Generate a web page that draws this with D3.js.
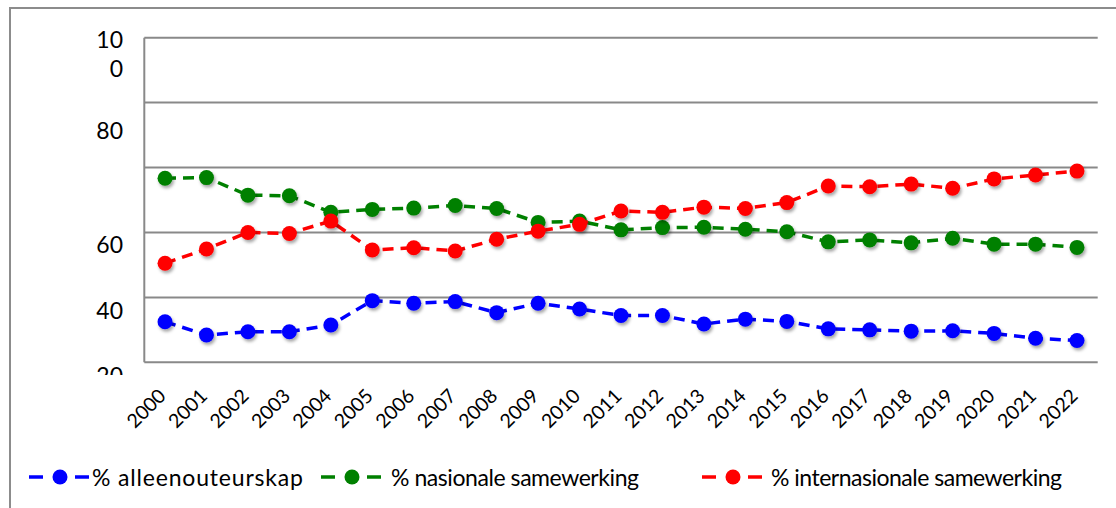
<!DOCTYPE html>
<html>
<head>
<meta charset="utf-8">
<script src="https://cdn.jsdelivr.net/npm/d3@7"></script>
<style>
  html, body { margin: 0; padding: 0; background: #fff; }
  svg { display: block; font-family: Lato, "Open Sans", sans-serif; }
</style>
</head>
<body>
<svg id="chart" width="1116" height="508"></svg>
<script>
// ---- data ----
const years = ["2000","2001","2002","2003","2004","2005","2006","2007","2008","2009","2010","2011",
               "2012","2013","2014","2015","2016","2017","2018","2019","2020","2021","2022"];
const solo = [12.5, 8.4, 9.4, 9.4, 11.5, 19.0, 18.2, 18.7, 15.3, 18.2, 16.4, 14.4,
              14.4, 11.8, 13.3, 12.6, 10.3, 10.0, 9.6, 9.7, 8.9, 7.4, 6.7];
const national = [56.7, 56.9, 51.5, 51.3, 46.2, 47.1, 47.5, 48.3, 47.4, 43.1, 43.5, 40.8,
                  41.5, 41.6, 41.0, 40.2, 37.1, 37.7, 36.8, 38.2, 36.4, 36.4, 35.4];
const international = [30.5, 34.9, 40.0, 39.7, 43.5, 34.6, 35.3, 34.3, 37.9, 40.4, 42.5, 46.6,
                       46.2, 47.8, 47.4, 49.2, 54.3, 54.1, 54.9, 53.6, 56.5, 57.7, 58.9];
const seriesNames = ["% alleenouteurskap", "% nasionale samewerking", "% internasionale samewerking"];
const gridValues = [0, 20, 40, 60, 80, 100];
const yTickValues = [100, 80, 60, 40, 20];

// ---- layout ----
const svg = d3.select("#chart");
const colors = ["#0000ff", "#008000", "#ff0000"];
const plot = { left: 144.3, right: 1097.7, top: 37.7, bottom: 362.3 };

const defs = svg.append("defs");
const f = defs.append("filter").attr("id", "shadow")
  .attr("x", "-60%").attr("y", "-60%").attr("width", "220%").attr("height", "220%");
f.append("feDropShadow").attr("dx", 1.5).attr("dy", 2.5).attr("stdDeviation", 1.6)
  .attr("flood-color", "#000").attr("flood-opacity", 0.35);
defs.append("clipPath").attr("id", "yclip")
  .append("rect").attr("x", 0).attr("y", 0).attr("width", 140).attr("height", 375);

// outer frame
svg.append("path")
  .attr("d", "M10,508 L10,8 L1116,8")
  .attr("fill", "none").attr("stroke", "#8c8c8c").attr("stroke-width", 2);

const x = d3.scaleBand().domain(years).range([plot.left, plot.right]);
const y = d3.scaleLinear().domain([0, 100]).range([plot.bottom, plot.top]);
const cx = d => x(d) + x.bandwidth() / 2;

// gridlines
svg.append("g").selectAll("line").data(gridValues).join("line")
  .attr("x1", plot.left).attr("x2", plot.right)
  .attr("y1", d => y(d)).attr("y2", d => y(d))
  .attr("stroke", "#898989").attr("stroke-width", 2);
// y axis line
svg.append("line")
  .attr("x1", plot.left).attr("x2", plot.left)
  .attr("y1", y(100)).attr("y2", y(0))
  .attr("stroke", "#898989").attr("stroke-width", 2);

// y tick labels (placement mimics the reference rendering)
const labelNudge = { 100: 1.5, 80: 27.7, 60: 76.2, 40: 77.4, 20: 78 };
const yl = svg.append("g").attr("clip-path", "url(#yclip)")
  .attr("font-size", 23).attr("fill", "#000").attr("text-anchor", "end");
yTickValues.forEach(v => {
  const t = yl.append("text").attr("x", 123).attr("dominant-baseline", "central");
  const s = String(v);
  if (s.length > 2) {
    t.append("tspan").attr("x", 123).attr("y", y(v) + labelNudge[v]).text(s.slice(0, 2));
    t.append("tspan").attr("x", 123).attr("y", y(v) + labelNudge[v] + 28.5).text(s.slice(2));
  } else {
    t.attr("y", y(v) + labelNudge[v]).text(s);
  }
});

// x tick labels
const xAxis = d3.axisBottom(x).tickSize(0).tickPadding(0);
const xg = svg.append("g").attr("transform", `translate(0,${plot.bottom})`).call(xAxis);
xg.select(".domain").remove();
xg.selectAll("text")
  .attr("font-family", "Lato, sans-serif").attr("font-size", 19.5).attr("fill", "#000")
  .attr("text-anchor", "end").attr("dy", null).attr("y", null)
  .attr("transform", "translate(2,35) rotate(-45)");

// series
const allSeries = [solo, national, international];
const line = d3.line().x((d, i) => cx(years[i])).y(d => y(d));
allSeries.forEach((vals, k) => {
  const g = svg.append("g");
  g.append("path").datum(vals).attr("d", line)
    .attr("fill", "none").attr("stroke", colors[k]).attr("stroke-width", 3.5)
    .attr("stroke-dasharray", "11,7");
  g.selectAll("circle").data(vals).join("circle")
    .attr("cx", (d, i) => cx(years[i])).attr("cy", d => y(d)).attr("r", 7.5)
    .attr("fill", colors[k]).attr("filter", "url(#shadow)");
});

// legend
const symX = [29, 321, 702];
const textX = [92, 391, 771];
const textW = [211, 248, 291];
const legY = 477;
const lg = svg.append("g");
seriesNames.forEach((name, k) => {
  lg.append("line").attr("x1", symX[k]).attr("x2", symX[k] + 60)
    .attr("y1", legY).attr("y2", legY)
    .attr("stroke", colors[k]).attr("stroke-width", 3.5).attr("stroke-dasharray", "14,32");
  lg.append("circle").attr("cx", symX[k] + 31).attr("cy", legY).attr("r", 7.5).attr("fill", colors[k]);
  lg.append("text").attr("x", textX[k]).attr("y", legY).attr("dominant-baseline", "central")
    .attr("font-size", 23).attr("fill", "#000")
    .attr("textLength", textW[k]).attr("lengthAdjust", "spacing").text(name);
});
</script>
</body>
</html>
